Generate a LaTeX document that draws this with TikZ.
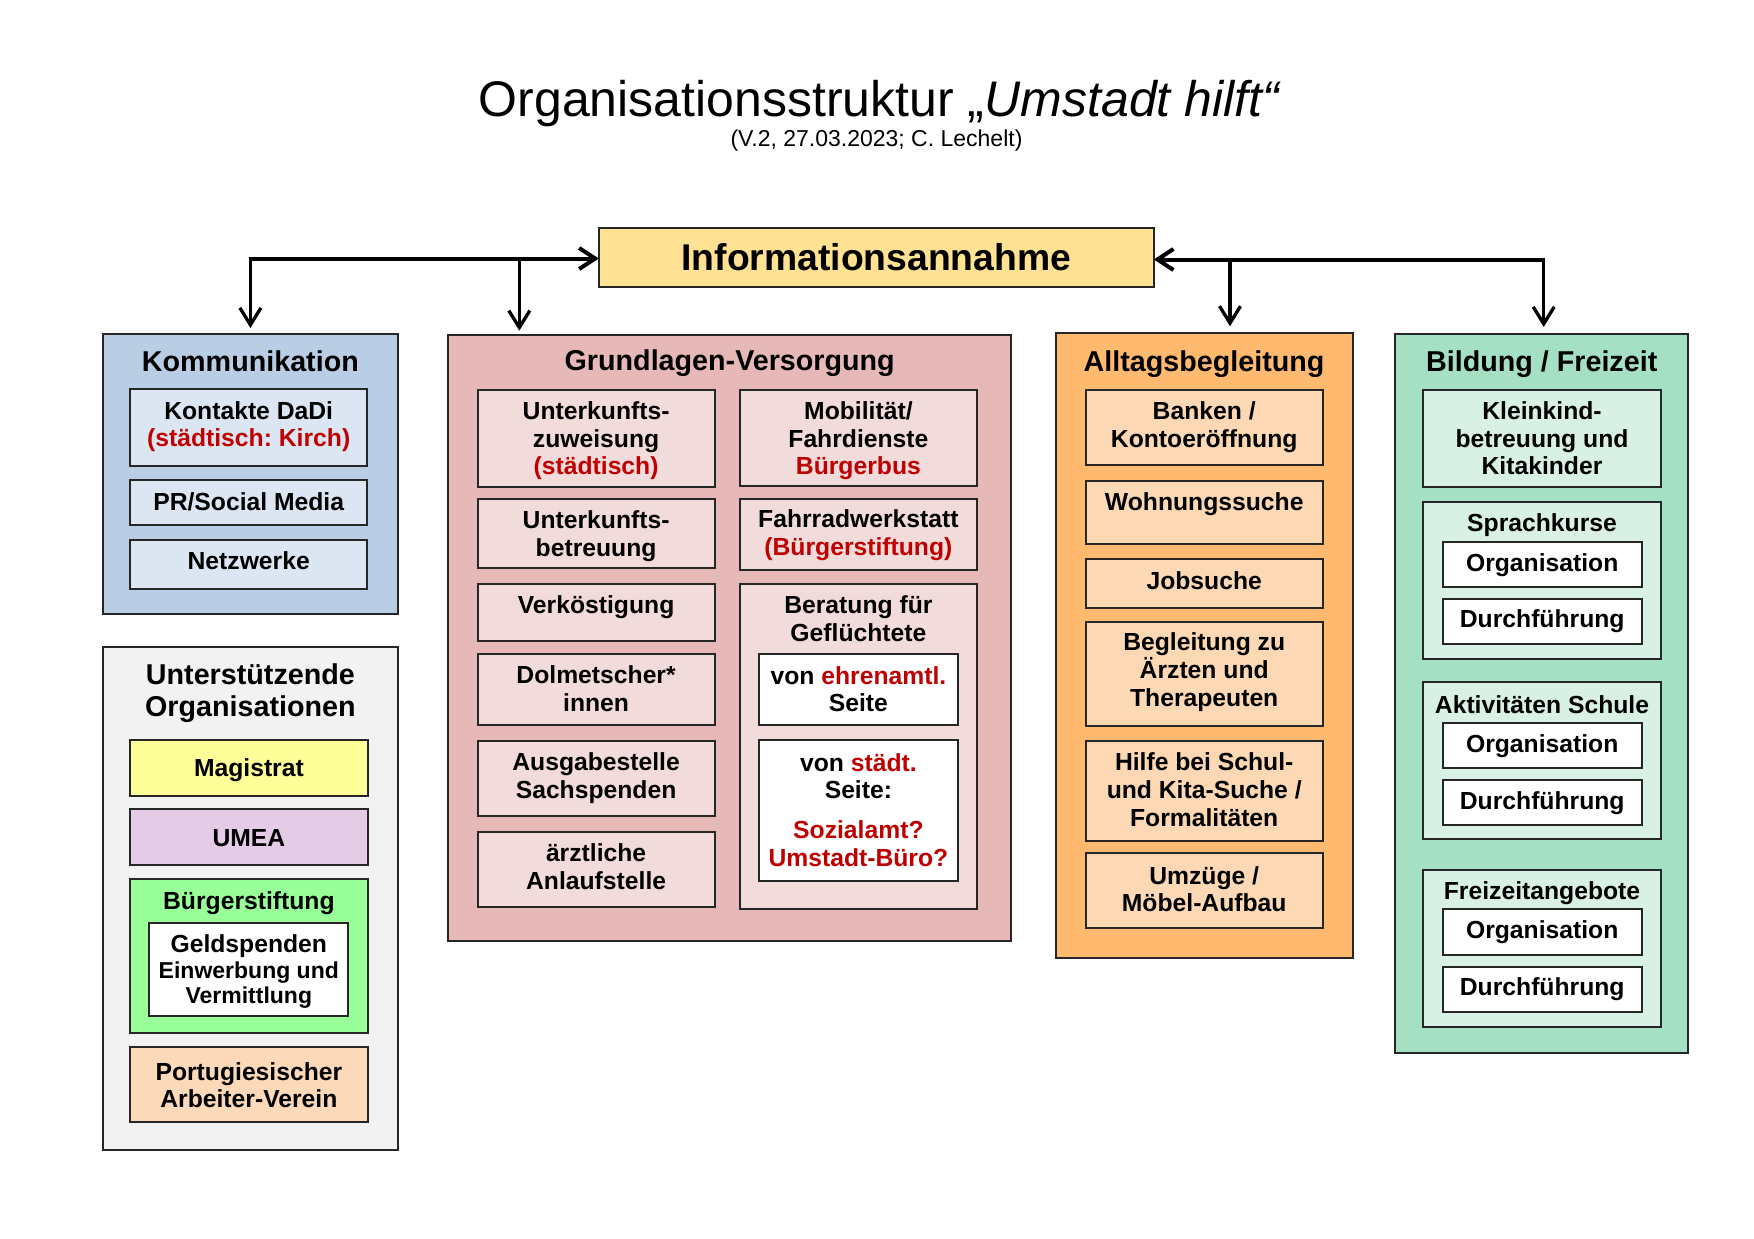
\documentclass[tikz,border=0pt]{standalone}
\usepackage{fontspec}
\setmainfont{Liberation Sans}
\usetikzlibrary{arrows.meta}
\frenchspacing
\definecolor{rd}{HTML}{C00000}
\definecolor{infoY}{HTML}{FFE193}
\definecolor{komO}{HTML}{B9CDE5}
\definecolor{komI}{HTML}{DCE6F2}
\definecolor{gvO}{HTML}{E6B9B8}
\definecolor{gvI}{HTML}{F2DCDB}
\definecolor{abO}{HTML}{FFBA70}
\definecolor{abI}{HTML}{FCD9B4}
\definecolor{bfO}{HTML}{A6E0C4}
\definecolor{bfI}{HTML}{D8F1E4}
\definecolor{uoO}{HTML}{F2F2F2}
\definecolor{magY}{HTML}{FFFF99}
\definecolor{umeaL}{HTML}{E4CBE6}
\definecolor{bstG}{HTML}{99FF99}
\definecolor{portP}{HTML}{FCD9B8}
\newcommand\ms{\rule[-0.192em]{0pt}{1.1em}}
\newcommand\bx[6]{\node[boxs, fill=#6, minimum width={#4pt-#2pt}, minimum height={#5pt-#3pt}] (#1) at (#2,#3) {};}
\tikzset{
  boxs/.style={draw=black!85, line width=2pt, anchor=north west, inner sep=0pt, outer sep=0pt, rectangle},
  tx/.style={font=\bfseries\fontsize{24.7}{27.6}\selectfont, align=center, inner sep=0pt,
     execute at begin node=\ms, execute at end node=\ms},
  ml/.style={tx, yshift=-3pt},
  hd/.style={font=\bfseries\fontsize{28.7}{32.2}\selectfont, align=center, inner sep=0pt,
     execute at begin node=\ms, execute at end node=\ms},
  hline/.style={line width=4pt, -{Straight Barb[length=16pt,width=21pt]}},
  vline/.style={line width=3.3pt, -{Straight Barb[length=17pt,width=21pt]}},
}
\begin{document}
\begin{tikzpicture}[x=1pt,y=-1pt]
\useasboundingbox (0,0) rectangle (1754,1239);
% title
\node[anchor=base, inner sep=0pt, font=\fontsize{50}{56}\selectfont] (title) at (880,117) {Organisationsstruktur „\textit{Umstadt hilft“}};
\node[anchor=base, inner sep=0pt, font=\fontsize{23}{26}\selectfont] (sub) at (876.5,146.5) {(V.2, 27.03.2023; C. Lechelt)};
% Informationsannahme
\bx{info}{598.8}{227.7}{1153.8}{286.7}{infoY}
\node[inner sep=0pt, font=\bfseries\fontsize{37.3}{40}\selectfont, execute at begin node=\ms] (tinfo) at (876.3,257.2) {Informationsannahme};
% outer boxes
\bx{kom}{102.5}{334}{398.3}{614.3}{komO}
\bx{uo}{102.5}{646.5}{398.3}{1150}{uoO}
\bx{gv}{448.3}{334.7}{1011.1}{940.9}{gvO}
\bx{ab}{1055.5}{333.3}{1352.7}{958.3}{abO}
\bx{bf}{1395}{334}{1688.3}{1053.3}{bfO}
% headings
\node[hd] (hkom) at (250.4,361.5) {Kommunikation};
\node[hd] (huo) at (250.4,693.5) {Unterstützende\\Organisationen};
\node[hd] (hgv) at (729.7,360.5) {Grundlagen-Versorgung};
\node[hd] (hab) at (1204.1,362) {Alltagsbegleitung};
\node[hd] (hbf) at (1541.7,361.5) {Bildung / Freizeit};
% Kommunikation
\bx{k1}{130}{389.3}{367.3}{466}{komI}
\bx{k2}{130}{480}{367.3}{525}{komI}
\bx{k3}{130}{540}{367.3}{589}{komI}
\node[ml] (tk1) at (248.7,423.7) {Kontakte DaDi\\\textcolor{rd}{(städtisch: Kirch)}};
\node[tx] (tk2) at (248.7,501.5) {PR/Social Media};
\node[tx] (tk3) at (248.7,561) {Netzwerke};
% Unterstuetzende Organisationen
\bx{mag}{130}{740}{367.7}{795.7}{magY}
\bx{umea}{130}{809.3}{367.7}{865}{umeaL}
\bx{bst}{130}{879}{367.7}{1033.3}{bstG}
\bx{geld}{149.3}{922.7}{348.3}{1015.7}{white}
\bx{port}{130}{1047.3}{367.7}{1122.3}{portP}
\node[tx] (tmag) at (248.9,768.3) {Magistrat};
\node[tx] (tumea) at (248.9,837.3) {UMEA};
\node[tx] (tbst) at (248.9,900.5) {Bürgerstiftung};
\node[ml, font=\bfseries\fontsize{23}{25.4}\selectfont] (tgeld) at (248.8,968.7) {{\fontsize{24.7}{25.4}\selectfont Geldspenden}\\Einwerbung und\\Vermittlung};
\node[ml] (tport) at (248.9,1084.5) {Portugiesischer\\Arbeiter-Verein};
% Grundlagen-Versorgung left column
\bx{g1}{477.6}{390.1}{714.6}{487}{gvI}
\bx{g2}{477.6}{498.8}{714.6}{568.4}{gvI}
\bx{g3}{477.6}{583.9}{714.6}{640.8}{gvI}
\bx{g4}{477.6}{654.2}{714.6}{725.4}{gvI}
\bx{g5}{477.6}{741.2}{714.6}{815.6}{gvI}
\bx{g6}{477.6}{832.2}{714.6}{907.3}{gvI}
\node[ml] (tg1) at (596.1,437.8) {Unterkunfts-\\zuweisung\\\textcolor{rd}{(städtisch)}};
\node[ml] (tg2) at (596.1,532.9) {Unterkunfts-\\betreuung};
\node[tx] (tg3) at (596.1,605) {Verköstigung};
\node[ml] (tg4) at (596.1,687.9) {Dolmetscher*\\innen};
\node[ml] (tg5) at (596.1,774.9) {Ausgabestelle\\Sachspenden};
\node[ml] (tg6) at (596.1,866.2) {ärztliche\\Anlaufstelle};
% Grundlagen-Versorgung right column
\bx{g7}{739.9}{390.1}{976.9}{486}{gvI}
\bx{g8}{739.9}{498.8}{976.9}{569.6}{gvI}
\bx{g9}{739.9}{584.2}{976.9}{908.5}{gvI}
\bx{w1}{758.7}{654.2}{958.1}{725.4}{white}
\bx{w2}{758.7}{740.4}{958.1}{880.8}{white}
\node[ml] (tg7) at (858.4,437.8) {Mobilität/\\Fahrdienste\\\textcolor{rd}{Bürgerbus}};
\node[ml] (tg8) at (858.4,532.3) {Fahrradwerkstatt\\\textcolor{rd}{(Bürgerstiftung)}};
\node[ml] (tg9) at (858.4,617.9) {Beratung für\\Geflüchtete};
\node[ml] (tw1) at (858.4,688.5) {von \textcolor{rd}{ehrenamtl.}\\Seite};
\node[ml] (tw2) at (858.4,775.3) {von \textcolor{rd}{städt.}\\Seite:};
\node[ml, text=rd] (tw3) at (858.4,843) {Sozialamt?\\Umstadt-Büro?};
% Alltagsbegleitung
\bx{a1}{1085.7}{390}{1322.7}{465}{abI}
\bx{a2}{1085.7}{481}{1322.7}{544.3}{abI}
\bx{a3}{1085.7}{559.3}{1322.7}{607.7}{abI}
\bx{a4}{1085.7}{622.3}{1322.7}{726}{abI}
\bx{a5}{1085.7}{741}{1322.7}{840.7}{abI}
\bx{a6}{1085.7}{853.3}{1322.7}{927.7}{abI}
\node[ml] (ta1) at (1204.2,424.2) {Banken /\\Kontoeröffnung};
\node[tx] (ta2) at (1204.2,502) {Wohnungssuche};
\node[tx] (ta3) at (1204.2,581) {Jobsuche};
\node[ml] (ta4) at (1204.2,669.2) {Begleitung zu\\Ärzten und\\Therapeuten};
\node[ml] (ta5) at (1204.2,788.9) {Hilfe bei Schul-\\und Kita-Suche /\\Formalitäten};
\node[ml] (ta6) at (1204.2,888.3) {Umzüge /\\Möbel-Aufbau};
% Bildung / Freizeit
\bx{b1}{1423.3}{390}{1660.7}{486.7}{bfI}
\bx{b2}{1423.3}{501.7}{1660.7}{659.3}{bfI}
\bx{b2o}{1442.7}{541.7}{1641.7}{586.7}{white}
\bx{b2d}{1442.7}{598.7}{1641.7}{644.3}{white}
\bx{b3}{1423.3}{681.7}{1660.7}{839.3}{bfI}
\bx{b3o}{1442.7}{723.3}{1641.7}{768.3}{white}
\bx{b3d}{1442.7}{780}{1641.7}{825}{white}
\bx{b4}{1423.3}{870}{1660.7}{1027.3}{bfI}
\bx{b4o}{1442.7}{909.3}{1641.7}{955}{white}
\bx{b4d}{1442.7}{966.7}{1641.7}{1011.7}{white}
\node[ml] (tb1) at (1542,437.5) {Kleinkind-\\betreuung und\\Kitakinder};
\node[tx] (tb2) at (1542,522.7) {Sprachkurse};
\node[tx] (tb2o) at (1542.2,562.7) {Organisation};
\node[tx] (tb2d) at (1542.2,619.3) {Durchführung};
\node[tx] (tb3) at (1542,705) {Aktivitäten Schule};
\node[tx] (tb3o) at (1542.2,744) {Organisation};
\node[tx] (tb3d) at (1542.2,801) {Durchführung};
\node[tx] (tb4) at (1542,891) {Freizeitangebote};
\node[tx] (tb4o) at (1542.2,930) {Organisation};
\node[tx] (tb4d) at (1542.2,987.3) {Durchführung};
% connectors
\coordinate (jl) at (250.4,258.5);
\coordinate (jm) at (519.3,258.5);
\coordinate (jr) at (1543.7,259.5);
\coordinate (jn) at (1230,259.5);
\draw[hline] ([xshift=-1.7pt]jl) -- (jl -| info.west);
\draw[hline] ([xshift=1.7pt]jr) -- (jr -| info.east);
\draw[vline, shorten >=6pt] (jl) -- (jl |- kom.north);
\draw[vline, shorten >=4pt] ([yshift=-2pt]jm) -- (jm |- gv.north);
\draw[vline, shorten >=7pt] ([yshift=-2pt]jn) -- (jn |- ab.north);
\draw[vline, shorten >=7pt] (jr) -- (jr |- bf.north);
\end{tikzpicture}
\end{document}
